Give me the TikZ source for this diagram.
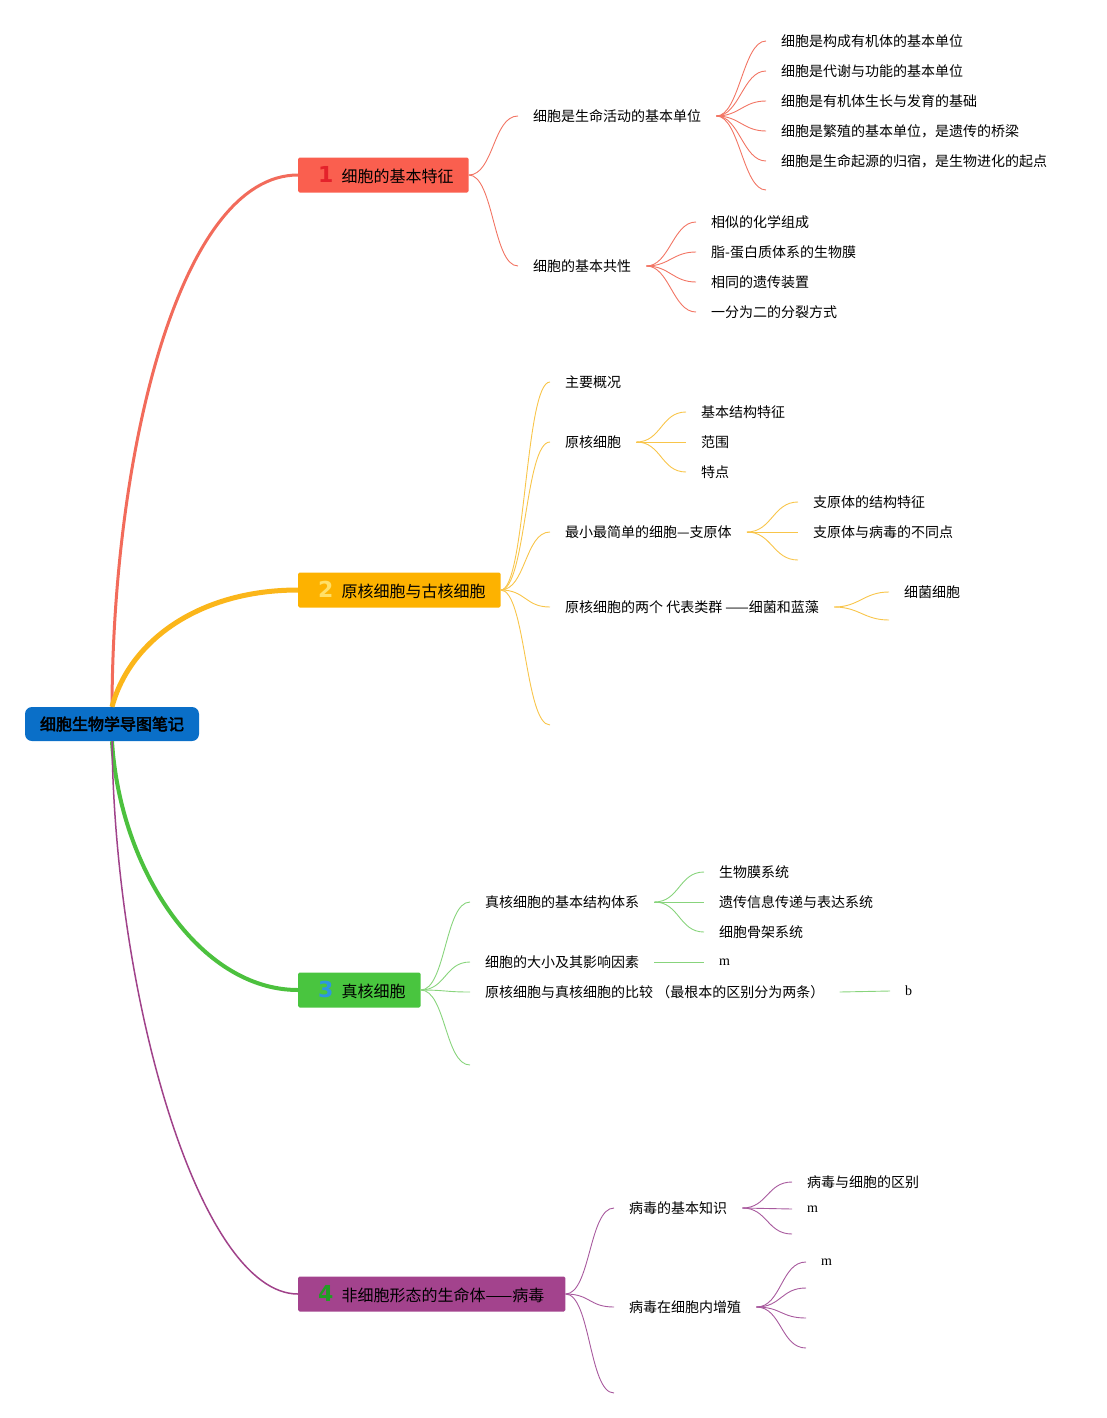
\documentclass[tikz,border=0pt]{standalone}
\usepackage{fontspec}
\setmainfont{Noto Sans CJK SC}
\newfontfamily\latinserif{Liberation Serif}
\newfontfamily\numfont{DejaVu Sans}
\newfontfamily\rootfont{Noto Sans CJK SC}[FakeBold=3]
\definecolor{rootblue}{HTML}{0A6FC8}
\definecolor{redfill}{HTML}{FA5F4F}
\definecolor{redthick}{HTML}{F26B5B}
\definecolor{redthin}{HTML}{F27564}
\definecolor{rednum}{HTML}{E4222B}
\definecolor{orgfill}{HTML}{FDB200}
\definecolor{orgthick}{HTML}{FBB61A}
\definecolor{orgthin}{HTML}{F8C54A}
\definecolor{orgnum}{HTML}{FFE069}
\definecolor{grnfill}{HTML}{49C53F}
\definecolor{grnthick}{HTML}{4CC13E}
\definecolor{grnthin}{HTML}{88D47C}
\definecolor{grnnum}{HTML}{2D96E0}
\definecolor{purfill}{HTML}{A3438D}
\definecolor{purthick}{HTML}{A0428A}
\definecolor{purthin}{HTML}{A85A9E}
\definecolor{purnum}{HTML}{229E24}
\newcommand\headnum[2]{\kern20pt{\numfont\bfseries\fontsize{22}{22}\selectfont\color{#1}#2}\kern8pt}
\newcommand\headend{\kern15pt}
\begin{document}
\begin{tikzpicture}[x=1pt,y=-1pt,
  rootnode/.style={fill=rootblue, rounded corners=7pt, minimum width=174pt, minimum height=34pt, inner sep=0pt, font=\rootfont\fontsize{16}{18}\selectfont},
  headnode/.style={fill=#1, rounded corners=1.5pt, minimum height=35pt, inner xsep=0pt, inner ysep=0pt, anchor=west, font=\fontsize{16}{18}\selectfont},
  txt/.style={anchor=west, inner xsep=15pt, inner ysep=1pt, font=\fontsize{14}{16}\selectfont},
  ltr/.style={anchor=west, inner xsep=15pt, inner ysep=1pt, font=\latinserif\fontsize{14}{16}\selectfont},
  lnk/.style={draw=#1, line width=0.9pt},
  fan/.style={out=0, in=180, distance=#1},
  fan/.default=23pt,
]
\useasboundingbox (0,0) rectangle (1107,1418);

% root and headers
\node[rootnode] (root) at (112,724) {细胞生物学导图笔记};
\node[headnode=redfill] (h1) at (298,175) {\headnum{rednum}{1}细胞的基本特征\headend};
\node[headnode=orgfill] (h2) at (298,590) {\headnum{orgnum}{2}原核细胞与古核细胞\headend};
\node[headnode=grnfill] (h3) at (298,990) {\headnum{grnnum}{3}真核细胞\headend};
\node[headnode=purfill] (h4) at (298,1294) {\headnum{purnum}{4}非细胞形态的生命体——病毒\kern21pt};

% main connectors
\draw[draw=redthick, line width=3pt] (root.north) .. controls (113,450) and (180,175) .. (h1.west);
\draw[draw=orgthick, line width=5pt] (root.north) .. controls (130,640) and (200,590) .. (h2.west);
\draw[draw=grnthick, line width=4pt] (root.south) .. controls (120,870) and (200,990) .. (h3.west);
\draw[draw=purthick, line width=1.5pt] (root.south) .. controls (115,1000) and (200,1294) .. (h4.west);

% ---------- section 1 ----------
\node[txt] (s11) at (518,116) {细胞是生命活动的基本单位};
\node[txt] (c111) at (766,41) {细胞是构成有机体的基本单位};
\node[txt] (c112) at (766,71) {细胞是代谢与功能的基本单位};
\node[txt] (c113) at (766,101) {细胞是有机体生长与发育的基础};
\node[txt] (c114) at (766,131) {细胞是繁殖的基本单位，是遗传的桥梁};
\node[txt] (c115) at (766,161) {细胞是生命起源的归宿，是生物进化的起点};
\coordinate (e116) at (766,190);
\node[txt] (s12) at (518,266) {细胞的基本共性};
\node[txt] (c121) at (696,222) {相似的化学组成};
\node[txt] (c122) at (696,252) {脂-蛋白质体系的生物膜};
\node[txt] (c123) at (696,282) {相同的遗传装置};
\node[txt] (c124) at (696,312) {一分为二的分裂方式};

\draw[lnk=redthin] (h1.east) to[fan=25pt] (s11.west);
\draw[lnk=redthin] (h1.east) to[fan=25pt] (s12.west);
\foreach \c in {c111,c112,c113,c114,c115}
  \draw[lnk=redthin] (s11.east) to[fan] (\c.west);
\draw[lnk=redthin] (s11.east) to[fan] (e116);
\foreach \c in {c121,c122,c123,c124}
  \draw[lnk=redthin] (s12.east) to[fan] (\c.west);

% ---------- section 2 ----------
\node[txt] (s21) at (550,382) {主要概况};
\node[txt] (s22) at (550,442) {原核细胞};
\node[txt] (c221) at (686,412) {基本结构特征};
\node[txt] (c222) at (686,442) {范围};
\node[txt] (c223) at (686,472) {特点};
\node[txt] (s23) at (550,532) {最小最简单的细胞—支原体};
\node[txt] (c231) at (798,502) {支原体的结构特征};
\node[txt] (c232) at (798,532) {支原体与病毒的不同点};
\coordinate (e233) at (798,560);
\node[txt] (s24) at (550,607) {原核细胞的两个 代表类群 ——细菌和蓝藻};
\node[txt] (c241) at (889,592) {细菌细胞};
\coordinate (e242) at (889,620);
\coordinate (e25) at (550,725);

\foreach \c in {s21,s22,s23,s24}
  \draw[lnk=orgthin] (h2.east) to[fan=25pt] (\c.west);
\draw[lnk=orgthin] (h2.east) to[fan=25pt] (e25);
\foreach \c in {c221,c222,c223}
  \draw[lnk=orgthin] (s22.east) to[fan=25pt] (\c.west);
\foreach \c in {c231,c232}
  \draw[lnk=orgthin] (s23.east) to[fan=25pt] (\c.west);
\draw[lnk=orgthin] (s23.east) to[fan=25pt] (e233);
\draw[lnk=orgthin] (s24.east) to[fan=25pt] (c241.west);
\draw[lnk=orgthin] (s24.east) to[fan=25pt] (e242);

% ---------- section 3 ----------
\node[txt] (s31) at (470,902) {真核细胞的基本结构体系};
\node[txt] (c311) at (704,872) {生物膜系统};
\node[txt] (c312) at (704,902) {遗传信息传递与表达系统};
\node[txt] (c313) at (704,932) {细胞骨架系统};
\node[txt] (s32) at (470,962) {细胞的大小及其影响因素};
\node[ltr] (c321) at (704,962) {m};
\node[txt] (s33) at (470,992) {原核细胞与真核细胞的比较 （最根本的区别分为两条）};
\node[ltr] (c331) at (890,991) {b};
\coordinate (e34) at (470,1065);

\foreach \c in {s31,s32,s33}
  \draw[lnk=grnthin] (h3.east) to[fan=25pt] (\c.west);
\draw[lnk=grnthin] (h3.east) to[fan=25pt] (e34);
\foreach \c in {c311,c312,c313}
  \draw[lnk=grnthin] (s31.east) to[fan=25pt] (\c.west);
\draw[lnk=grnthin] (s32.east) -- (c321.west);
\draw[lnk=grnthin] (s33.east) -- (c331.west);

% ---------- section 4 ----------
\node[txt] (s41) at (614,1208) {病毒的基本知识};
\node[txt] (c411) at (792,1182) {病毒与细胞的区别};
\node[ltr] (c412) at (792,1209) {m};
\coordinate (e413) at (792,1234);
\node[txt] (s42) at (614,1307) {病毒在细胞内增殖};
\node[ltr] (c421) at (806,1262) {m};
\coordinate (e422) at (806,1288);
\coordinate (e423) at (806,1318);
\coordinate (e424) at (806,1348);
\coordinate (e43) at (614,1393);

\foreach \c in {s41,s42}
  \draw[lnk=purthin] (h4.east) to[fan=25pt] (\c.west);
\draw[lnk=purthin] (h4.east) to[fan=25pt] (e43);
\draw[lnk=purthin] (s41.east) to[fan=25pt] (c411.west);
\draw[lnk=purthin] (s41.east) to[fan=25pt] (c412.west);
\draw[lnk=purthin] (s41.east) to[fan=25pt] (e413);
\draw[lnk=purthin] (s42.east) to[fan=25pt] (c421.west);
\foreach \c in {e422,e423,e424}
  \draw[lnk=purthin] (s42.east) to[fan=25pt] (\c);
\end{tikzpicture}
\end{document}
